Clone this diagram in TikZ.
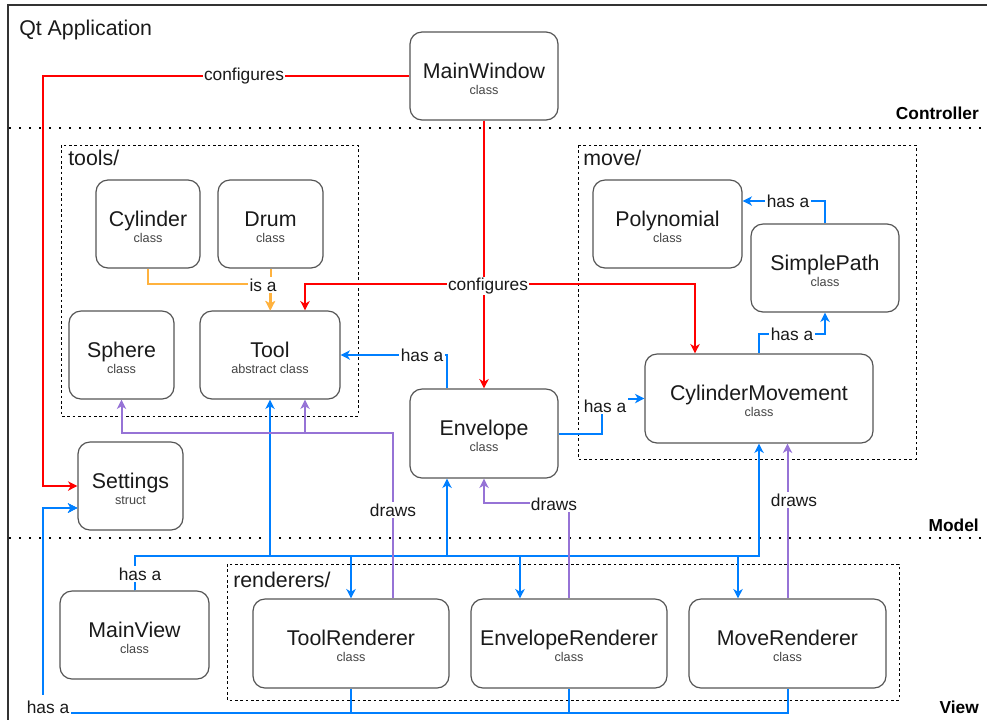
\documentclass[tikz,border=0pt]{standalone}
\usepackage{fontspec}
\setmainfont{Liberation Sans}
\usetikzlibrary{arrows.meta,calc}
\definecolor{cred}{HTML}{FF0000}
\definecolor{cblue}{HTML}{007FFF}
\definecolor{corange}{HTML}{FFB23E}
\definecolor{cpurple}{HTML}{9673D6}
\definecolor{cborder}{HTML}{555555}
\definecolor{ctext}{HTML}{1A1A1A}
\definecolor{csub}{HTML}{444444}
\newcommand\cbox[6]{%
  \node[box, minimum width=#3*0.75pt, minimum height=#4*0.75pt] (#1) at #2 {};
  \node[ttl, anchor=base] (#1-t) at ([yshift=-1.5pt]#1.center) {#5};
  \node[subt, anchor=base] (#1-s) at ([yshift=-13.5pt]#1.center) {#6};
}
\begin{document}
\begin{tikzpicture}[x=0.75pt,y=-0.75pt,
  box/.style={draw=cborder, line width=0.9pt, rounded corners=9pt, fill=white, inner sep=0pt},
  ttl/.style={font=\fontsize{16}{19}\selectfont, text=ctext, inner sep=0pt},
  subt/.style={font=\fontsize{9.5}{11}\selectfont, text=csub, inner sep=0pt},
  grp/.style={draw=black, line width=0.6pt, dash pattern=on 2pt off 2pt},
  grplbl/.style={font=\fontsize{16}{19}\selectfont, text=ctext, inner sep=0pt, anchor=base west},
  sidelbl/.style={font=\fontsize{13}{15}\selectfont\bfseries, text=black, inner sep=0pt, anchor=base east},
  sep/.style={line width=1.7pt, dash pattern=on 1.7pt off 5.8pt, black},
  conn/.style={line width=1.5pt, -{Stealth[length=7pt,width=7pt,inset=2pt]}},
  rd/.style={conn, draw=cred},
  bl/.style={conn, draw=cblue},
  orn/.style={conn, draw=corange},
  pu/.style={conn, draw=cpurple},
  lbl/.style={fill=white, inner sep=1pt, font=\fontsize{13}{15}\selectfont, text=ctext}
]
\useasboundingbox (0,0) rectangle (987,719);
% outer frame
\draw[line width=1.4pt, draw=black!80] (8,5) rectangle (1000,740);
\node[grplbl] (qt) at (19,35.5) {Qt Application};
% separators
\draw[sep] (9,128) -- (987,128);
\draw[sep] (9,538) -- (987,538);
\node[sidelbl] (lc) at (979,119) {Controller};
\node[sidelbl] (lm) at (979,531) {Model};
\node[sidelbl] (lv) at (979,713) {View};
% groups
\draw[grp] (61,145) rectangle (358,416);
\node[grplbl] (gtools) at (68,165) {tools/};
\draw[grp] (578,145) rectangle (916,459);
\node[grplbl] (gmove) at (583,165) {move/};
\draw[grp] (227,564) rectangle (899,700);
\node[grplbl] (grend) at (233,587) {renderers/};
% boxes
\cbox{mw}{(484,76)}{148}{88}{MainWindow}{class}
\cbox{cyl}{(148,224)}{104}{88}{Cylinder}{class}
\cbox{drum}{(270.5,224)}{105}{88}{Drum}{class}
\cbox{sph}{(121.5,355)}{105}{88}{Sphere}{class}
\cbox{tool}{(270,355)}{140}{88}{Tool}{abstract class}
\cbox{env}{(484,433.5)}{148}{89}{Envelope}{class}
\cbox{set}{(130.5,486)}{105}{88}{Settings}{struct}
\cbox{poly}{(667.5,224)}{149}{88}{Polynomial}{class}
\cbox{sp}{(825,268)}{148}{88}{SimplePath}{class}
\cbox{cm}{(759,398.5)}{228}{89}{CylinderMovement}{class}
\cbox{mv}{(134.5,635)}{149}{88}{MainView}{class}
\cbox{tr}{(351,643.5)}{196}{89}{ToolRenderer}{class}
\cbox{er}{(569,643.5)}{196}{89}{EnvelopeRenderer}{class}
\cbox{mr}{(787.5,643.5)}{197}{89}{MoveRenderer}{class}
% red: configures
\draw[rd] (mw.west) -- (43,76) -- (43,486) -- (set.west);
\draw[rd] (mw.south) -- (env.north);
\draw[rd] (mw.south) -- (484,284) -| ($(tool.north)+(35,0)$);
\draw[rd] (mw.south) -- (484,284) -| ($(cm.north)+(-64,0)$);
% orange: is a
\draw[orn] (cyl.south) -- (148,284) -| (tool.north);
\draw[orn] (drum.south) -- (drum.south |- tool.north);
% blue: has a
\draw[bl] ($(env.north)+(-37,0)$) |- (tool.east);
\draw[bl] (env.east) -- (602,433.5) -- (602,398.5) -- (cm.west);
\draw[bl] (sp.north) |- ($(poly.east)+(0,-23)$);
\draw[bl] (cm.north) -- (759,334) -| (sp.south);
\draw[bl] (mv.north) |- (759,556) -- (cm.south);
\draw[bl] (mv.north) |- (270,556) -- (tool.south);
\draw[bl] (mv.north) |- (447,556) -- ($(env.south)+(-37,0)$);
\draw[bl] (mv.north) |- (351,556) -- (tr.north);
\draw[bl] (mv.north) |- (520,556) -- ($(er.north)+(-49,0)$);
\draw[bl] (mv.north) |- (738,556) -- ($(mr.north)+(-49.5,0)$);
\draw[bl] (tr.south) -- (351,713) -- (43,713) -- (43,508) -- ($(set.west)+(0,22)$);
\draw[bl] (er.south) -- (569,713) -- (43,713) -- (43,508) -- ($(set.west)+(0,22)$);
\draw[bl] (mr.south) -- (787.5,713) -- (43,713) -- (43,508) -- ($(set.west)+(0,22)$);
% purple: draws
\draw[pu] ($(tr.north)+(42,0)$) -- (393,433) -| (sph.south);
\draw[pu] ($(tr.north)+(42,0)$) -- (393,433) -| ($(tool.south)+(35,0)$);
\draw[pu] (er.north) -- (569,503) -| (env.south);
\draw[pu] (mr.north) -- (mr.north |- cm.south);
% labels
\node[lbl] (l1) at (244,76) {configures};
\node[lbl] (l2) at (488,286) {configures};
\node[lbl] (l3) at (263,285) {is a};
\node[lbl] (l4) at (422,355) {has a};
\node[lbl] (l5) at (605,406) {has a};
\node[lbl] (l6) at (788,201) {has a};
\node[lbl] (l7) at (792,334) {has a};
\node[lbl] (l8) at (140,574) {has a};
\node[lbl, inner ysep=4pt] (l9) at (48,707) {has a};
\node[lbl] (l10) at (393,510) {draws};
\node[lbl] (l11) at (554,504) {draws};
\node[lbl] (l12) at (794,500) {draws};
\end{tikzpicture}
\end{document}
